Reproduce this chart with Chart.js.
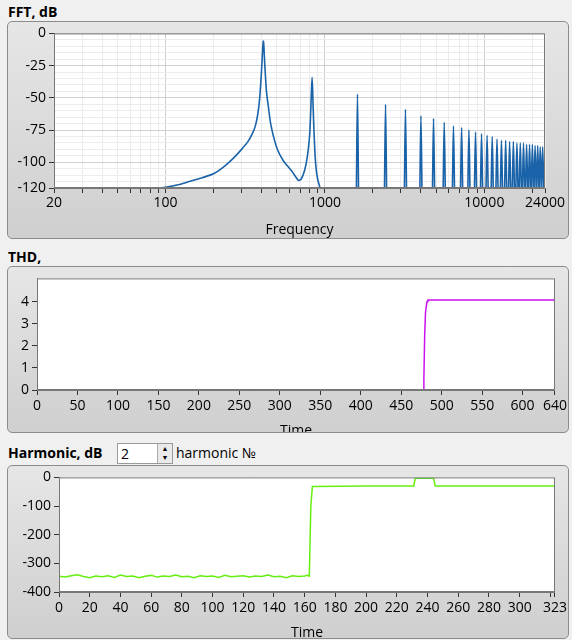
<!DOCTYPE html>
<html><head><meta charset="utf-8">
<script src="https://cdn.jsdelivr.net/npm/chart.js@4"></script>
<style>
body{margin:0;width:572px;height:640px;background:#f0f0f0;position:relative;font-family:"Open Sans","Noto Sans",sans-serif;overflow:hidden}
.title{position:absolute;font-weight:bold;font-size:14px;color:#000}
.box{position:absolute;left:7px;width:562px;border:1px solid #8c8c8c;border-radius:5px;background:linear-gradient(#e6e6e6,#cfcfcf);box-sizing:border-box;overflow:hidden}
canvas{position:absolute;left:0;top:0}
.spin{position:absolute;left:117px;top:443px;width:56px;height:21px;border:1px solid #9a9a9a;background:#fff;font-size:14px;box-sizing:border-box;padding-left:3px;line-height:19px}
.arr{position:absolute;right:0;top:0;width:14px;height:19px;border-left:1px solid #aaa;background:#eaeaea;font-size:7px;line-height:9px;text-align:center}
.hl{position:absolute;left:176px;top:443px;font-size:14px}
</style></head><body>
<div class="title" style="left:8px;top:2px">FFT, dB</div>
<div class="box" style="top:21px;height:218px"><canvas id="c1" width="562" height="216"></canvas></div>
<div class="title" style="left:8px;top:247px">THD,</div>
<div class="box" style="top:266px;height:167px"><canvas id="c2" width="562" height="165"></canvas></div>
<div class="title" style="left:8px;top:443px">Harmonic, dB</div>
<div class="spin">2<div class="arr">▲<br>▼</div></div>
<div class="hl">harmonic №</div>
<div class="box" style="top:465px;height:174px"><canvas id="c3" width="562" height="172"></canvas></div>
<script>
// FFT data
const fftContFreq = [92,100,120,141,170,200,230,266,300,329,350,366,380,390,400,411,420,430,440,460,503,550,621,683,710,747,775,801,815,831,845,860,876,900,933];
const fftContDb   = [-120,-119.5,-117.5,-115,-112,-109,-104,-97,-90,-84,-78,-72,-62,-50,-30,-6,-25,-45,-55,-72,-90,-99,-107,-114,-113,-106,-96,-80,-60,-34,-60,-85,-102,-113,-120];
const harmFreq = [1600,2400,3200,4000,4800,5600,6400,7200,8000,8800,9600,10400,11200,12000,12800,13600,14400,15200,16000,16800,17600,18400,19200,20000,20800,21600,22400,23200,24000];
const harmDb   = [-47,-55,-59,-64,-66,-69,-72,-73,-75,-76.5,-78,-79,-80,-82,-83,-83,-84,-84,-85,-85,-85,-86,-86,-86,-87,-87,-88,-88,-93];
const fftTickLabels = [20,100,1000,10000,24000];
// THD data
const thdTime = [0,100,200,300,400,477,478,479,480,481,482,483,490,550,640];
const thdVal  = [0,0,0,0,0,0,0.5,2.5,3.5,3.8,4.0,4.07,4.07,4.07,4.07];
const thdTicks = [0,50,100,150,200,250,300,350,400,450,500,550,600,640];
const thdYTicks = [0,1,2,3,4];
// Harmonic data
const harmTime = [0,4,8,12,16,20,24,28,32,36,40,44,48,52,56,60,64,68,72,76,80,84,88,92,96,100,104,108,112,116,120,124,128,132,136,140,144,148,152,156,160,162,163,164,165,200,231,232,233,243,244,245,280,323];
const harmVal  = [-345,-348,-343,-340,-346,-350,-344,-347,-343,-349,-341,-346,-344,-350,-345,-342,-348,-344,-346,-341,-347,-345,-350,-343,-346,-344,-349,-342,-347,-345,-343,-348,-344,-346,-341,-347,-345,-350,-343,-346,-344,-342,-345,-100,-32,-30,-30,-3,-3,-3,-3,-30,-30,-30];
const harmTicks = [0,20,40,60,80,100,120,140,160,180,200,220,240,260,280,300,320,323];
const harmYTicks = [-400,-300,-200,-100,0];

const font = {family:'"Open Sans","Noto Sans",sans-serif', size:14};
Chart.defaults.font = font; Chart.defaults.color = '#000';
const plotBg = {id:'pb', beforeDraw(c){const a=c.chartArea,x=c.ctx;x.save();x.fillStyle='#fff';x.fillRect(a.left,a.top,a.right-a.left,a.bottom-a.top);x.restore();},
  afterDraw(c){const a=c.chartArea,x=c.ctx;x.save();x.strokeStyle='#777';x.lineWidth=1;x.strokeRect(a.left+0.5,a.top+0.5,a.right-a.left-1,a.bottom-a.top-1);x.restore();}};

function spikes(){const pts=[];for(let i=0;i<fftContFreq.length;i++)pts.push({x:fftContFreq[i],y:fftContDb[i]});pts.push({x:NaN,y:NaN});
  for(let i=0;i<harmFreq.length;i++){const f=harmFreq[i];pts.push({x:f*0.985,y:-120},{x:f,y:harmDb[i]},{x:Math.min(f*1.015,24000),y:-120},{x:NaN,y:NaN});}return pts;}

const logTicks=[];for(let d=10;d<=10000;d*=10)for(let m=1;m<10;m++){const v=d*m;if(v>=20&&v<=24000)logTicks.push(v);}logTicks.push(24000);
const yTicks1=[];for(let v=-120;v<=0;v+=5)yTicks1.push(v);

new Chart(document.getElementById('c1'),{type:'scatter',
 data:{datasets:[{data:spikes(),showLine:true,borderColor:'#1a63a8',borderWidth:1.6,pointRadius:0,spanGaps:false,tension:0.3}]},
 options:{responsive:false,animation:false,plugins:{legend:{display:false},tooltip:{enabled:false}},
  layout:{padding:{left:0,right:25,top:11,bottom:0}},
  scales:{
   x:{type:'logarithmic',min:20,max:24000,
    afterBuildTicks(s){s.ticks=logTicks.map(v=>({value:v}));},
    afterFit(s){s.height=50;},
    ticks:{autoSkip:false,maxRotation:0,padding:2,callback:v=>fftTickLabels.includes(v)?String(v):''},
    grid:{color:c=>[100,1000,10000].includes(c.tick&&c.tick.value)?'#d0d0d0':'#ececec',tickLength:5,tickColor:'#333'},
    border:{color:'#777'},
    title:{display:true,text:'Frequency',padding:{top:0,bottom:0}}},
   y:{min:-120,max:0,afterBuildTicks(s){s.ticks=yTicks1.map(v=>({value:v}));},
    afterFit(s){s.width=46;},
    ticks:{autoSkip:false,padding:3,callback:v=>([-120,-100,-75,-50,-25,0].includes(v)?String(v):'')},
    grid:{color:c=>(c.tick&&c.tick.value%25===0)?'#d0d0d0':'#ececec',tickLength:5,tickColor:c=>(c.tick&&[-120,-100,-75,-50,-25,0].includes(c.tick.value))?'#333':'rgba(0,0,0,0)'},
    border:{color:'#777'}}}},plugins:[plotBg]});

function mk(id,xs,ys,color,xmin,xmax,xt,ymin,ymax,yt,pad,ywidth,xh,hideLbl,tb){
 new Chart(document.getElementById(id),{type:'scatter',
  data:{datasets:[{data:xs.map((x,i)=>({x,y:ys[i]})),showLine:true,borderColor:color,borderWidth:1.5,pointRadius:0}]},
  options:{responsive:false,animation:false,plugins:{legend:{display:false},tooltip:{enabled:false}},
   layout:{padding:pad},
   scales:{
    x:{type:'linear',min:xmin,max:xmax,afterBuildTicks(s){s.ticks=xt.map(v=>({value:v}));},afterFit(s){s.height=xh;},
     ticks:{autoSkip:false,maxRotation:0,padding:3,callback:v=>(v===hideLbl?'':String(v))},
     grid:{drawOnChartArea:false,tickLength:5,tickColor:'#333'},border:{color:'#777'},
     title:{display:true,text:'Time',padding:{top:-3,bottom:tb}}},
    y:{min:ymin,max:ymax,afterBuildTicks(s){s.ticks=yt.map(v=>({value:v}));},afterFit(s){s.width=ywidth;},ticks:{autoSkip:false,padding:3},
     grid:{drawOnChartArea:false,tickLength:5,tickColor:'#333'},border:{color:'#777'}}}},plugins:[plotBg]});
}
mk('c2',thdTime,thdVal,'#cc11ee',0,640,thdTicks,0,5.05,thdYTicks,{left:0,right:15,top:4,bottom:0},29,42,null,-7);
mk('c3',harmTime,harmVal,'#66ee11',0,323,harmTicks,-400,0,harmYTicks,{left:0,right:14,top:8,bottom:0},51,46,320,-3);
</script></body></html>
